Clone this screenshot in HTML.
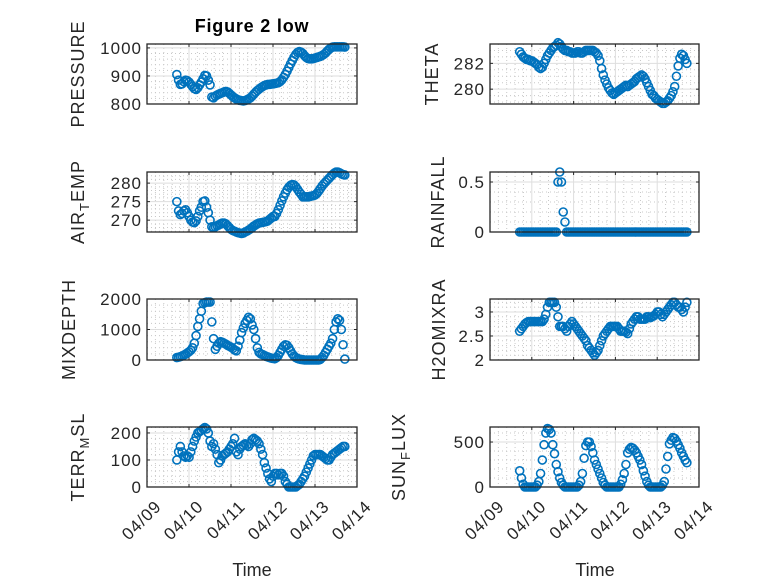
<!DOCTYPE html>
<html><head><meta charset="utf-8"><style>
html,body{margin:0;padding:0;background:#fff}
svg{display:block;font-family:"Liberation Sans",sans-serif}
</style></head><body>
<svg id="fig" width="778" height="583" viewBox="0 0 778 583" xmlns="http://www.w3.org/2000/svg">
<rect width="778" height="583" fill="#fff"/>
<text x="252" y="32" text-anchor="middle" font-size="18" letter-spacing="0.8" font-weight="bold" fill="#000">Figure 2 low</text>
<text x="252" y="576" text-anchor="middle" font-size="18" fill="#262626">Time</text>
<text x="595" y="576" text-anchor="middle" font-size="18" fill="#262626">Time</text>
</svg>
<script>
const startDay = 0.71;
const stepDay = 1/24;
const xTickLabels = ["04/09","04/10","04/11","04/12","04/13","04/14"];
const pressure = [905,885,870,872,880,885,883,878, 870,862,855,852,858,868,878,890, 902,900,885,868,825,822,828,832, 835,838,840,843,845,843,838,832, 826,822,818,815,813,812,811,812, 815,818,822,828,835,842,848,853, 858,862,866,868,870,870,871,872, 873,874,876,880,886,895,905,917, 930,943,955,967,977,984,987,985, 980,972,966,962,961,961,962,964, 966,968,970,973,977,982,989,995, 1000,1003,1004,1004,1004,1004,1004,1004,1003];
const airTemp = [275,272.5,271.5,271.8,272.5,272.8,272,271, 270,269.5,269.3,269.8,271,272.5,273.5,275, 275.2,273.5,272,270,268.2,268,268.2,268.5, 268.7,269,269.2,269.2,269,268.5,268,267.5, 267.2,267,266.8,266.6,266.5,266.4,266.5,266.8, 267,267.3,267.6,268,268.4,268.7,269,269.2, 269.3,269.4,269.5,269.6,269.8,270.2,270.6,271, 271,271.8,272.8,274,275.2,276.3,277.3,278.2, 278.9,279.4,279.6,279.5,279,278.3,277.6,277, 276.3,276.3,276.3,276.3,276.4,276.5,276.6,276.8, 277.2,277.8,278.5,279.2,279.8,280.3,280.8,281.3, 281.8,282.3,282.7,283,283,282.8,282.5,282.3,282.2];
const theta = [282.9,282.7,282.5,282.4,282.3,282.3,282.2,282.2, 282.1,282,281.9,281.7,281.6,281.7,282,282.3, 282.6,282.8,283,283.2,283.3,283.4,283.6,283.5, 283.3,283.1,283,283,282.9,282.9,282.8,282.8, 282.8,282.9,282.9,282.8,282.8,282.9,283,283, 283,283,283,282.9,282.8,282.6,282.2,281.6, 281.1,280.7,280.4,280.1,279.9,279.7,279.6,279.7, 279.8,279.9,280,280.1,280.2,280.3,280.2,280.3, 280.4,280.5,280.6,280.8,280.9,281,281.1,281, 280.8,280.5,280.2,279.9,279.6,279.5,279.3,279.2, 279.1,279,278.9,278.9,279,279.1,279.3,279.5, 279.8,280.2,281,281.8,282.4,282.7,282.6,282.3,282];
const rainfall = [0,0,0,0,0,0,0,0, 0,0,0,0,0,0,0,0, 0,0,0,0,0,0,0.5,0.6, 0.5,0.2,0.1,0,0,0,0,0, 0,0,0,0,0,0,0,0, 0,0,0,0,0,0,0,0, 0,0,0,0,0,0,0,0, 0,0,0,0,0,0,0,0, 0,0,0,0,0,0,0,0, 0,0,0,0,0,0,0,0, 0,0,0,0,0,0,0,0, 0,0,0,0,0,0,0,0,0];
const mixDepth = [80,90,110,130,160,190,230,270, 320,400,550,800,1100,1350,1600,1850, 1880,1900,1900,1900,1250,700,350,450, 550,600,580,550,520,480,450,420, 380,330,300,450,650,900,1050,1200, 1300,1400,1350,1150,1000,700,400,250, 200,180,150,120,100,80,60,50, 40,80,150,250,350,450,500,480, 400,300,200,130,80,50,30,20, 10,0,0,0,0,0,0,0, 0,0,20,80,150,250,350,450, 550,700,1000,1250,1350,1300,1000,500,30];
const h2oMixRa = [2.6,2.65,2.7,2.75,2.78,2.8,2.8,2.8, 2.8,2.8,2.8,2.8,2.8,2.8,2.85,2.95, 3.1,3.2,3.2,3.2,3.2,3.1,2.9,2.7, 2.7,2.7,2.65,2.6,2.7,2.75,2.8,2.75, 2.7,2.65,2.6,2.55,2.5,2.45,2.4,2.3, 2.25,2.2,2.15,2.1,2.15,2.2,2.3,2.4, 2.5,2.55,2.6,2.65,2.7,2.7,2.7,2.7, 2.7,2.65,2.6,2.6,2.6,2.58,2.55,2.65, 2.75,2.8,2.85,2.9,2.9,2.85,2.85,2.85, 2.85,2.9,2.9,2.88,2.9,2.92,2.95,3.0, 3.0,2.95,2.9,2.95,3.0,3.05,3.1,3.15, 3.2,3.2,3.15,3.1,3.1,3.05,3.0,3.1,3.2];
const terrMsl = [100,130,150,130,115,110,115,110, 130,150,170,185,200,205,210,215, 220,215,200,170,150,160,140,120, 90,100,115,120,125,130,140,150, 160,180,130,120,140,150,155,160, 155,150,160,175,180,175,170,160, 140,120,90,70,50,30,20,40, 50,50,45,50,50,40,20,10, 0,0,0,0,0,5,10,20, 30,40,55,70,85,100,115,120, 120,120,120,115,110,105,100,100, 110,120,125,130,135,140,145,150,150];
const sunFlux = [180,100,30,0,0,0,0,0, 0,0,20,60,150,300,470,600, 650,640,600,470,370,250,170,100, 50,20,0,0,0,0,0,0, 0,0,20,60,150,320,460,500, 500,450,380,300,250,200,150,100, 50,20,0,0,0,0,0,0, 0,0,30,80,150,250,380,420, 440,430,410,380,340,300,250,180, 120,60,20,0,0,0,0,0, 0,0,20,60,200,340,480,520, 550,540,510,470,430,380,340,300,270];
const yTicksPressure = [800,900,1000];
const yTicksAir = [270,275,280];
const yTicksTheta = [280,282];
const yTicksRain = [0,0.5];
const yTicksMix = [0,1000,2000];
const yTicksH2o = [2,2.5,3];
const yTicksTerr = [0,100,200];
const yTicksSun = [0,500];

const NS = "http://www.w3.org/2000/svg";
const svg = document.getElementById('fig');
function mk(tag, attrs, parent){
  const e = document.createElementNS(NS, tag);
  for (const k in attrs) e.setAttribute(k, attrs[k]);
  (parent||svg).appendChild(e);
  return e;
}
const panels = [
 {id:'pressure', x:147,y:44,w:210,h:60, ylim:[800,1014], ticks:yTicksPressure, minor:20, data:pressure, lab:['PRESSURE'], lx:77},
 {id:'theta', x:490,y:44,w:209,h:60, ylim:[278.85,283.5], ticks:yTicksTheta, minor:0.5, data:theta, lab:['THETA'], lx:431},
 {id:'air-temp', x:147,y:172,w:210,h:60, ylim:[266.8,283], ticks:yTicksAir, minor:1, data:airTemp, lab:['AIR','T','EMP'], lx:77},
 {id:'rainfall', x:490,y:172,w:209,h:60, ylim:[0,0.6], ticks:yTicksRain, minor:0.1, data:rainfall, lab:['RAINFALL'], lx:437},
 {id:'mixdepth', x:147,y:299,w:210,h:61, ylim:[0,2000], ticks:yTicksMix, minor:200, data:mixDepth, lab:['MIXDEPTH'], lx:68},
 {id:'h2omixra', x:490,y:299,w:209,h:61, ylim:[2,3.27], ticks:yTicksH2o, minor:0.1, data:h2oMixRa, lab:['H2OMIXRA'], lx:438},
 {id:'terr-msl', x:147,y:427,w:210,h:60, ylim:[0,222], ticks:yTicksTerr, minor:20, data:terrMsl, lab:['TERR','M','SL'], lx:77},
 {id:'sun-flux', x:490,y:427,w:209,h:60, ylim:[0,667], ticks:yTicksSun, minor:100, data:sunFlux, lab:['SUN','F','LUX'], lx:398}
];
panels.forEach(p=>{
  const g = mk('g',{});
  
  
  const xs = d => p.x + d/5*p.w;
  const ys = v => p.y + p.h - (v-p.ylim[0])/(p.ylim[1]-p.ylim[0])*p.h;
  for (let d=0; d<5; d+=0.2){ if (Math.abs(d-Math.round(d))<1e-6) continue;
    const l = mk('line',{x1:xs(d),x2:xs(d),y1:p.y,y2:p.y+p.h,stroke:'#c8c8c8','stroke-width':1,'stroke-dasharray':'1 3'},g);
    
    
  }
  const ystart = Math.ceil(p.ylim[0]/p.minor)*p.minor;
  for (let v=ystart; v<=p.ylim[1]+1e-9; v+=p.minor){
    if (p.ticks.some(t=>Math.abs(t-v)<1e-6)) continue;
    const l = mk('line',{x1:p.x,x2:p.x+p.w,y1:ys(v),y2:ys(v),stroke:'#c8c8c8','stroke-width':1,'stroke-dasharray':'1 3'},g);
    
    
  }
  for (let d=0; d<=5; d++){
    const l = mk('line',{x1:xs(d),x2:xs(d),y1:p.y,y2:p.y+p.h,stroke:'#dedede','stroke-width':1},g);
    
    
    mk('line',{x1:xs(d),x2:xs(d),y1:p.y+p.h,y2:p.y+p.h-3,stroke:'#262626'},g);
    mk('line',{x1:xs(d),x2:xs(d),y1:p.y,y2:p.y+3,stroke:'#262626'},g);
  }
  p.ticks.forEach(t=>{
    const l = mk('line',{x1:p.x,x2:p.x+p.w,y1:ys(t),y2:ys(t),stroke:'#dedede','stroke-width':1},g);
    
    
    mk('line',{x1:p.x,x2:p.x+3,y1:ys(t),y2:ys(t),stroke:'#262626'},g);
    mk('line',{x1:p.x+p.w,x2:p.x+p.w-3,y1:ys(t),y2:ys(t),stroke:'#262626'},g);
    const tx = mk('text',{x:p.x-5,y:ys(t)+6,'text-anchor':'end','font-size':17,'letter-spacing':1,fill:'#262626'},g);
    tx.textContent = String(t);
    
    
  });
  const dg = mk('g',{fill:'none',stroke:'#0072BD','stroke-width':1.6},g);
  
  
  p.data.forEach((v,i)=>{
    const c = mk('circle',{cx:xs(startDay+i*stepDay),cy:ys(v),r:4},dg);
    
    
  });
  const b = mk('rect',{x:p.x,y:p.y,width:p.w,height:p.h,fill:'none',stroke:'#262626','stroke-width':1.3},g);
  
  
  const cy = p.y+p.h/2;
  const yl = mk('text',{x:0,y:0,'text-anchor':'middle','font-size':18,'letter-spacing':1,fill:'#262626',transform:`translate(${p.lx+7},${cy}) rotate(-90)`},g);
  
  
  if (p.lab.length===1) yl.textContent = p.lab[0];
  else {
    const a = mk('tspan',{},yl); a.textContent = p.lab[0];
    const s = mk('tspan',{dy:5,'font-size':13},yl); s.textContent = p.lab[1];
    const c2 = mk('tspan',{dy:-5},yl); c2.textContent = p.lab[2];
  }
  if (p.y>400){
    xTickLabels.forEach((lab,d)=>{
      const t = mk('text',{x:0,y:0,'text-anchor':'end','font-size':17,'letter-spacing':1,fill:'#262626',transform:`translate(${xs(d)+7},${p.y+p.h+12}) rotate(-45)`,dy:'0.7em'},g);
      t.textContent = lab;
      
      
    });
  }
});
</script>
</body></html>
